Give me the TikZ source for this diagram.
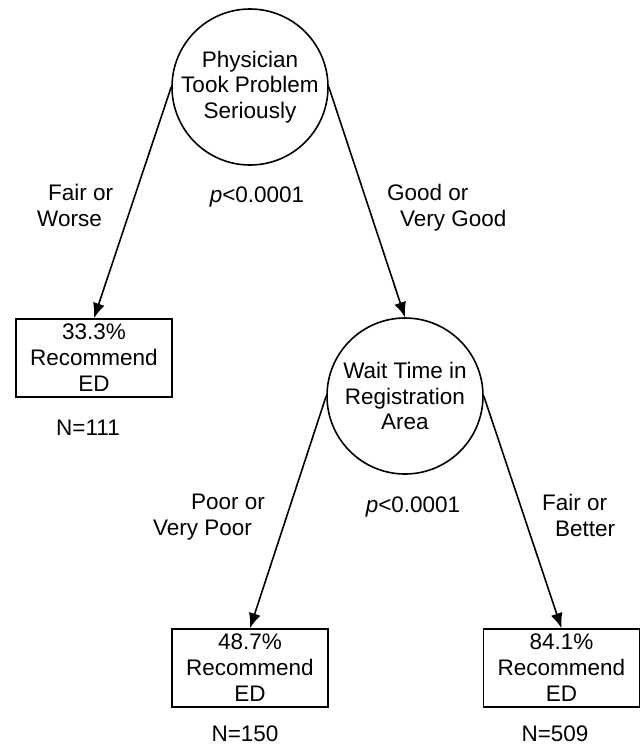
\documentclass[tikz,border=0pt]{standalone}
\usepackage{fontspec}
\setmainfont{Liberation Sans}
\usetikzlibrary{arrows.meta}
\begin{document}
\begin{tikzpicture}[x=1pt,y=-1pt,
  lbl/.style={font=\fontsize{22.5}{25.5}\selectfont, inner sep=0pt},
  split/.style={circle, draw, line width=1.6pt, minimum size=156pt, inner sep=0pt, align=center, font=\fontsize{22.5}{25.5}\selectfont},
  leaf/.style={rectangle, draw, line width=1.6pt, minimum width=156pt, minimum height=78pt, inner sep=0pt, align=center, font=\fontsize{22.5}{26}\selectfont},
  conn/.style={line width=1.6pt, -{Latex[length=15pt,width=12pt]}}]
\useasboundingbox (0,0) rectangle (641,748);
\node[split] (c1) at (250,87) {Physician\\Took Problem\\Seriously};
\node[split] (c2) at (405,396) {Wait Time in\\Registration\\Area};
\node[leaf] (b1) at (94,358) {33.3\%\\Recommend\\ED};
\node[leaf] (b2) at (250,668) {48.7\%\\Recommend\\ED};
\node[leaf] (b3) at (561.5,668) {84.1\%\\Recommend\\ED};
\draw[conn] (c1.west) -- (b1.north);
\draw[conn] (c1.east) -- (c2.north);
\draw[conn] (c2.west) -- (b2.north);
\draw[conn] (c2.east) -- (b3.north);
\node[lbl, align=left, anchor=north west] (l1) at (37,184) {\hspace*{11pt}Fair or\\Worse};
\node[lbl] (p1) at (257,197) {\textit{p}<0.0001};
\node[lbl, align=left, anchor=north west] (l2) at (387,184) {Good or\\\hspace*{13pt}Very Good};
\node[lbl, align=right, anchor=north east] (l3) at (265,494) {Poor or\\Very Poor\hspace*{13pt}};
\node[lbl] (p2) at (413,507) {\textit{p}<0.0001};
\node[lbl, align=left, anchor=north west] (l4) at (542,494) {Fair or\\\hspace*{13pt}Better};
\node[lbl] (n1) at (88,428) {N=111};
\node[lbl] (n2) at (245,734) {N=150};
\node[lbl] (n3) at (555,734) {N=509};
\end{tikzpicture}
\end{document}
